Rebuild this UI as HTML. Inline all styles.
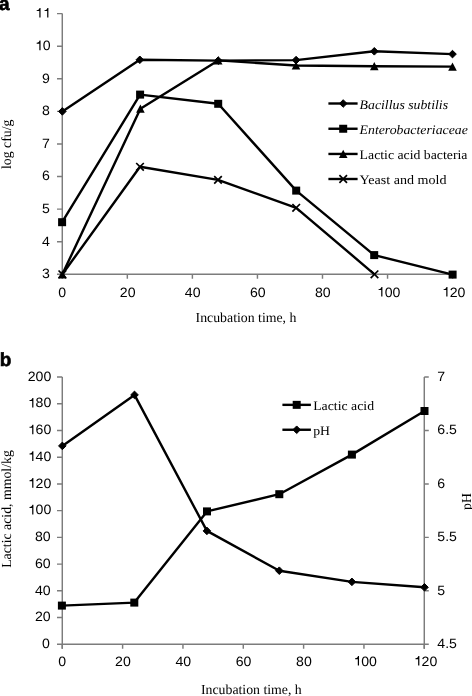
<!DOCTYPE html>
<html><head><meta charset="utf-8"><title>Figure</title><style>
html,body{margin:0;padding:0;background:#fff;}
body{width:472px;height:696px;overflow:hidden;}
svg{display:block;text-rendering:geometricPrecision;filter:grayscale(1);}
.n{font-family:"Liberation Sans",sans-serif;font-size:13.5px;fill:#000;}
.l{font-family:"Liberation Serif",serif;font-size:13.0px;fill:#000;}
.t{font-family:"Liberation Serif",serif;font-size:13.8px;fill:#000;}
.i{font-style:italic;}
.b{font-family:"Liberation Sans",sans-serif;font-size:19px;font-weight:bold;fill:#000;stroke:#000;stroke-width:0.6px;}
</style></head>
<body><svg width="472" height="696" viewBox="0 0 472 696">
<rect width="472" height="696" fill="#fff"/>
<path d="M62.28 13.6V274.28H452.6" fill="none" stroke="#7c7c7c" stroke-width="1.45"/>
<path d="M57 274.28H62.28 M57 241.69H62.28 M57 209.11H62.28 M57 176.52H62.28 M57 143.94H62.28 M57 111.36H62.28 M57 78.77H62.28 M57 46.19H62.28 M57 13.6H62.28 M62.28 274.28V278.78 M127.33 274.28V278.78 M192.39 274.28V278.78 M257.44 274.28V278.78 M322.49 274.28V278.78 M387.55 274.28V278.78 M452.6 274.28V278.78" fill="none" stroke="#7c7c7c" stroke-width="1.45"/>
<g fill="#000">
<text transform="translate(42.05 278.23) scale(1.045 1)" class="n">3</text>
<text transform="translate(42.05 245.64) scale(1.045 1)" class="n">4</text>
<text transform="translate(42.05 213.06) scale(1.045 1)" class="n">5</text>
<text transform="translate(42.05 180.47) scale(1.045 1)" class="n">6</text>
<text transform="translate(42.05 147.89) scale(1.045 1)" class="n">7</text>
<text transform="translate(42.05 115.31) scale(1.045 1)" class="n">8</text>
<text transform="translate(42.05 82.72) scale(1.045 1)" class="n">9</text>
<text transform="translate(34.91 50.14) scale(1.045 1)" class="n"> 0</text>
<path transform="translate(34.91 50.14) scale(0.014107 -0.013500)" d="M314 476L314 0L400 0L400 709L329 709C307 630 275 560 125 545L125 476Z"/>
<text transform="translate(34.91 17.55) scale(1.045 1)" class="n">  </text>
<path transform="translate(34.91 17.55) scale(0.014107 -0.013500)" d="M314 476L314 0L400 0L400 709L329 709C307 630 275 560 125 545L125 476Z"/>
<path transform="translate(42.75 17.55) scale(0.014107 -0.013500)" d="M314 476L314 0L400 0L400 709L329 709C307 630 275 560 125 545L125 476Z"/>
<text transform="translate(58.36 296.5) scale(1.045 1)" class="n">0</text>
<text transform="translate(119.79 296.5) scale(1.045 1)" class="n">20</text>
<text transform="translate(184.84 296.5) scale(1.045 1)" class="n">40</text>
<text transform="translate(249.89 296.5) scale(1.045 1)" class="n">60</text>
<text transform="translate(314.95 296.5) scale(1.045 1)" class="n">80</text>
<text transform="translate(376.78 296.5) scale(1.045 1)" class="n"> 00</text>
<path transform="translate(376.78 296.5) scale(0.014107 -0.013500)" d="M314 476L314 0L400 0L400 709L329 709C307 630 275 560 125 545L125 476Z"/>
<text transform="translate(441.83 296.5) scale(1.045 1)" class="n"> 20</text>
<path transform="translate(441.83 296.5) scale(0.014107 -0.013500)" d="M314 476L314 0L400 0L400 709L329 709C307 630 275 560 125 545L125 476Z"/>
</g>
<polyline points="62.35,111.4 139.8,59.8 218.2,60.6 296.1,60.1 374.3,51.3 452.5,54.1" fill="none" stroke="#000" stroke-width="2.4" stroke-linejoin="round"/>
<polyline points="62.1,222.2 140.1,94.6 218.2,103.8 296.2,190.6 374.2,255.1 452.6,274.6" fill="none" stroke="#000" stroke-width="2.4" stroke-linejoin="round"/>
<polyline points="62.35,274.3 140.4,108.7 218.2,60.4 296,65.5 374.3,66.2 452.5,66.6" fill="none" stroke="#000" stroke-width="2.4" stroke-linejoin="round"/>
<polyline points="62.35,274.3 140,166.8 218,179.9 296.2,207.8 374.5,274.3" fill="none" stroke="#000" stroke-width="2.4" stroke-linejoin="round"/>
<g fill="#000">
<path d="M62.35 107.6L66.15 111.4L62.35 115.2L58.55 111.4Z" stroke="#000" stroke-width="1.0" stroke-linejoin="round"/>
<path d="M139.8 56L143.6 59.8L139.8 63.6L136 59.8Z" stroke="#000" stroke-width="1.0" stroke-linejoin="round"/>
<path d="M218.2 56.8L222 60.6L218.2 64.4L214.4 60.6Z" stroke="#000" stroke-width="1.0" stroke-linejoin="round"/>
<path d="M296.1 56.3L299.9 60.1L296.1 63.9L292.3 60.1Z" stroke="#000" stroke-width="1.0" stroke-linejoin="round"/>
<path d="M374.3 47.5L378.1 51.3L374.3 55.1L370.5 51.3Z" stroke="#000" stroke-width="1.0" stroke-linejoin="round"/>
<path d="M452.5 50.3L456.3 54.1L452.5 57.9L448.7 54.1Z" stroke="#000" stroke-width="1.0" stroke-linejoin="round"/>
<rect x="58.1" y="218.2" width="8" height="8"/>
<rect x="136.1" y="90.6" width="8" height="8"/>
<rect x="214.2" y="99.8" width="8" height="8"/>
<rect x="292.2" y="186.6" width="8" height="8"/>
<rect x="370.2" y="251.1" width="8" height="8"/>
<rect x="448.6" y="270.6" width="8" height="8"/>
<path d="M62.35 270.2L66.65 278.4L58.05 278.4Z"/>
<path d="M140.4 104.6L144.7 112.8L136.1 112.8Z"/>
<path d="M218.2 56.3L222.5 64.5L213.9 64.5Z"/>
<path d="M296 61.4L300.3 69.6L291.7 69.6Z"/>
<path d="M374.3 62.1L378.6 70.3L370 70.3Z"/>
<path d="M452.5 62.5L456.8 70.7L448.2 70.7Z"/>
<path d="M58.55 270.5L66.15 278.1M66.15 270.5L58.55 278.1" stroke="#000" stroke-width="1.7" fill="none"/>
<path d="M136.2 163L143.8 170.6M143.8 163L136.2 170.6" stroke="#000" stroke-width="1.7" fill="none"/>
<path d="M214.2 176.1L221.8 183.7M221.8 176.1L214.2 183.7" stroke="#000" stroke-width="1.7" fill="none"/>
<path d="M292.4 204L300 211.6M300 204L292.4 211.6" stroke="#000" stroke-width="1.7" fill="none"/>
<path d="M370.7 270.5L378.3 278.1M378.3 270.5L370.7 278.1" stroke="#000" stroke-width="1.7" fill="none"/>
</g>
<path d="M328.4 103.5H357.6" stroke="#000" stroke-width="2.4"/>
<path d="M343.2 99.7L347 103.5L343.2 107.3L339.4 103.5Z" stroke="#000" stroke-width="1.0" stroke-linejoin="round"/>
<text transform="translate(359.6 108.6) scale(1.06 1)" class="l i">Bacillus subtilis</text>
<path d="M328.4 128.75H357.6" stroke="#000" stroke-width="2.4"/>
<rect x="339.2" y="124.75" width="8" height="8"/>
<text transform="translate(359.6 133.5) scale(1.06 1)" class="l i">Enterobacteriaceae</text>
<path d="M328.4 153.95H357.6" stroke="#000" stroke-width="2.4"/>
<path d="M343.2 149.85L347.5 158.05L338.9 158.05Z"/>
<text transform="translate(359.6 158.7) scale(1.06 1)" class="l">Lactic acid bacteria</text>
<path d="M328.4 179H357.6" stroke="#000" stroke-width="2.4"/>
<path d="M339.4 175.2L347 182.8M347 175.2L339.4 182.8" stroke="#000" stroke-width="1.7" fill="none"/>
<text transform="translate(359.6 183.6) scale(1.082 1)" class="l">Yeast and mold</text>
<text transform="translate(10.8 144.3) rotate(-90)" class="t" text-anchor="middle">log cfu/g</text>
<text transform="translate(195.6 321.8)" class="t">Incubation time, h</text>
<text transform="translate(-1.0 9.9)" class="b">a</text>
<path d="M62.28 377V648.78M62.28 644.28H424.28M424.28 377V648.78" fill="none" stroke="#7c7c7c" stroke-width="1.45"/>
<path d="M57 644.28H62.28 M57 617.55H62.28 M57 590.82H62.28 M57 564.1H62.28 M57 537.37H62.28 M57 510.64H62.28 M57 483.91H62.28 M57 457.18H62.28 M57 430.46H62.28 M57 403.73H62.28 M57 377H62.28 M424.28 644.28H428.78 M424.28 590.82H428.78 M424.28 537.37H428.78 M424.28 483.91H428.78 M424.28 430.46H428.78 M424.28 377H428.78 M62.28 644.28V648.78 M122.61 644.28V648.78 M182.95 644.28V648.78 M243.28 644.28V648.78 M303.61 644.28V648.78 M363.95 644.28V648.78 M424.28 644.28V648.78" fill="none" stroke="#7c7c7c" stroke-width="1.45"/>
<g fill="#000">
<text transform="translate(42.05 648.03) scale(1.045 1)" class="n">0</text>
<text transform="translate(34.91 621.3) scale(1.045 1)" class="n">20</text>
<text transform="translate(34.91 594.57) scale(1.045 1)" class="n">40</text>
<text transform="translate(34.91 567.85) scale(1.045 1)" class="n">60</text>
<text transform="translate(34.91 541.12) scale(1.045 1)" class="n">80</text>
<text transform="translate(27.76 514.39) scale(1.045 1)" class="n"> 00</text>
<path transform="translate(27.76 514.39) scale(0.014107 -0.013500)" d="M314 476L314 0L400 0L400 709L329 709C307 630 275 560 125 545L125 476Z"/>
<text transform="translate(27.76 487.66) scale(1.045 1)" class="n"> 20</text>
<path transform="translate(27.76 487.66) scale(0.014107 -0.013500)" d="M314 476L314 0L400 0L400 709L329 709C307 630 275 560 125 545L125 476Z"/>
<text transform="translate(27.76 460.93) scale(1.045 1)" class="n"> 40</text>
<path transform="translate(27.76 460.93) scale(0.014107 -0.013500)" d="M314 476L314 0L400 0L400 709L329 709C307 630 275 560 125 545L125 476Z"/>
<text transform="translate(27.76 434.21) scale(1.045 1)" class="n"> 60</text>
<path transform="translate(27.76 434.21) scale(0.014107 -0.013500)" d="M314 476L314 0L400 0L400 709L329 709C307 630 275 560 125 545L125 476Z"/>
<text transform="translate(27.76 407.48) scale(1.045 1)" class="n"> 80</text>
<path transform="translate(27.76 407.48) scale(0.014107 -0.013500)" d="M314 476L314 0L400 0L400 709L329 709C307 630 275 560 125 545L125 476Z"/>
<text transform="translate(27.76 380.75) scale(1.045 1)" class="n">200</text>
<text transform="translate(437.3 648.03) scale(1.045 1)" class="n">4.5</text>
<text transform="translate(437.3 594.57) scale(1.045 1)" class="n">5</text>
<text transform="translate(437.3 541.12) scale(1.045 1)" class="n">5.5</text>
<text transform="translate(437.3 487.66) scale(1.045 1)" class="n">6</text>
<text transform="translate(437.3 434.21) scale(1.045 1)" class="n">6.5</text>
<text transform="translate(437.3 380.75) scale(1.045 1)" class="n">7</text>
<text transform="translate(58.36 665.6) scale(1.045 1)" class="n">0</text>
<text transform="translate(115.07 665.6) scale(1.045 1)" class="n">20</text>
<text transform="translate(175.4 665.6) scale(1.045 1)" class="n">40</text>
<text transform="translate(235.73 665.6) scale(1.045 1)" class="n">60</text>
<text transform="translate(296.07 665.6) scale(1.045 1)" class="n">80</text>
<text transform="translate(353.38 665.6) scale(1.045 1)" class="n"> 00</text>
<path transform="translate(353.38 665.6) scale(0.014107 -0.013500)" d="M314 476L314 0L400 0L400 709L329 709C307 630 275 560 125 545L125 476Z"/>
<text transform="translate(413.71 665.6) scale(1.045 1)" class="n"> 20</text>
<path transform="translate(413.71 665.6) scale(0.014107 -0.013500)" d="M314 476L314 0L400 0L400 709L329 709C307 630 275 560 125 545L125 476Z"/>
</g>
<polyline points="61.9,605.6 134.3,602.6 207,511.4 279.3,494.2 351.9,454.6 424.5,411" fill="none" stroke="#000" stroke-width="2.4" stroke-linejoin="round"/>
<polyline points="62.35,445.9 134.5,394.9 206.9,530.9 279.3,570.7 351.9,581.85 424.5,587.3" fill="none" stroke="#000" stroke-width="2.4" stroke-linejoin="round"/>
<g fill="#000">
<rect x="57.9" y="601.6" width="8" height="8"/>
<rect x="130.3" y="598.6" width="8" height="8"/>
<rect x="203" y="507.4" width="8" height="8"/>
<rect x="275.3" y="490.2" width="8" height="8"/>
<rect x="347.9" y="450.6" width="8" height="8"/>
<rect x="420.5" y="407" width="8" height="8"/>
<path d="M62.35 442.1L66.15 445.9L62.35 449.7L58.55 445.9Z" stroke="#000" stroke-width="1.0" stroke-linejoin="round"/>
<path d="M134.5 391.1L138.3 394.9L134.5 398.7L130.7 394.9Z" stroke="#000" stroke-width="1.0" stroke-linejoin="round"/>
<path d="M206.9 527.1L210.7 530.9L206.9 534.7L203.1 530.9Z" stroke="#000" stroke-width="1.0" stroke-linejoin="round"/>
<path d="M279.3 566.9L283.1 570.7L279.3 574.5L275.5 570.7Z" stroke="#000" stroke-width="1.0" stroke-linejoin="round"/>
<path d="M351.9 578.05L355.7 581.85L351.9 585.65L348.1 581.85Z" stroke="#000" stroke-width="1.0" stroke-linejoin="round"/>
<path d="M424.5 583.5L428.3 587.3L424.5 591.1L420.7 587.3Z" stroke="#000" stroke-width="1.0" stroke-linejoin="round"/>
</g>
<path d="M282.4 404.85H310.9" stroke="#000" stroke-width="2.4"/>
<rect x="292.7" y="400.85" width="8" height="8"/>
<text transform="translate(313.2 409.6) scale(1.06 1)" class="l">Lactic acid</text>
<path d="M282.4 429.75H310.9" stroke="#000" stroke-width="2.4"/>
<path d="M296.7 425.95L300.5 429.75L296.7 433.55L292.9 429.75Z" stroke="#000" stroke-width="1.0" stroke-linejoin="round"/>
<text transform="translate(313.2 434.5) scale(1.06 1)" class="l">pH</text>
<text transform="translate(10.8 509) rotate(-90)" class="t" text-anchor="middle">Lactic acid, mmol/kg</text>
<text transform="translate(470.5 501.5) rotate(-90)" class="t" text-anchor="middle">pH</text>
<text transform="translate(201 694.4)" class="t">Incubation time, h</text>
<text transform="translate(-0.3 366.0)" class="b">b</text>
</svg></body></html>
